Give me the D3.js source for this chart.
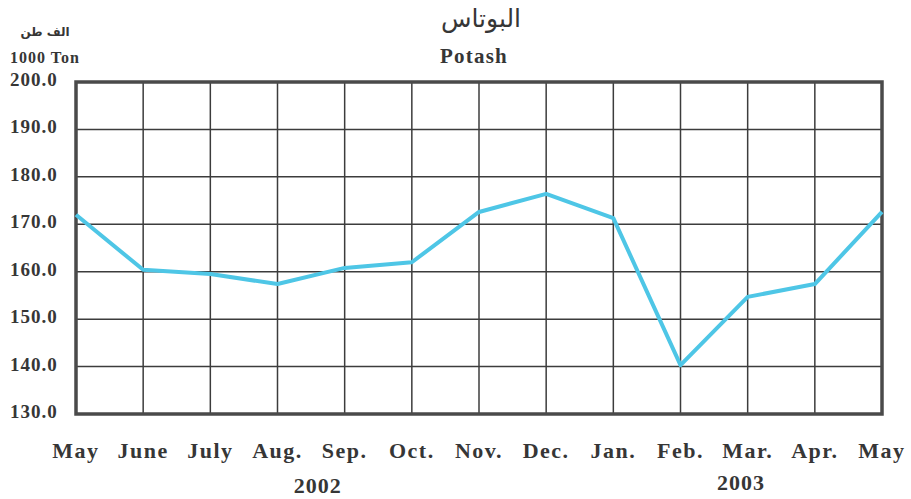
<!DOCTYPE html>
<meta charset="utf-8">
<head>
  <title>Potash</title>
</head>
<style>
body { margin: 0; background: #fff; }
text { fill: #363636; }
.lbl { font-family: "Liberation Serif", "Times New Roman", serif; font-weight: bold; }
.ar { font-family: "DejaVu Sans", sans-serif; }
</style>
<body>
<svg width="911" height="499"></svg>
<script src="https://cdn.jsdelivr.net/npm/d3@7/dist/d3.min.js"></script>
<script>

var months = ["May", "June", "July", "Aug.", "Sep.", "Oct.", "Nov.", "Dec.", "Jan.", "Feb.", "Mar.", "Apr.", "May"];
var potash = [172.0, 160.4, 159.5, 157.4, 160.8, 162.0, 172.6, 176.4, 171.3, 140.3, 154.7, 157.4, 172.6];
var yTicks = [130, 140, 150, 160, 170, 180, 190, 200];
var years = [{label: "2002", at: 3.6}, {label: "2003", at: 9.9}];

var svg = d3.select("svg");
// plot box (note: "top" is taken by window.top)
var pLeft = 76, pRight = 882, pTop = 82, pBottom = 414;

var x = d3.scaleLinear().domain([0, months.length - 1]).range([pLeft, pRight]);
var y = d3.scaleLinear().domain([130, 200]).range([pBottom, pTop]);

// grid
svg.append("g").selectAll("line")
  .data(yTicks)
  .enter().append("line")
  .attr("x1", pLeft).attr("x2", pRight)
  .attr("y1", function(d) { return y(d); })
  .attr("y2", function(d) { return y(d); })
  .attr("stroke", "#3c3c3c").attr("stroke-width", 1.5);

svg.append("g").selectAll("line")
  .data(d3.range(months.length))
  .enter().append("line")
  .attr("y1", pTop).attr("y2", pBottom)
  .attr("x1", function(d) { return x(d); })
  .attr("x2", function(d) { return x(d); })
  .attr("stroke", "#3c3c3c").attr("stroke-width", 1.5);

// frame
svg.append("rect")
  .attr("x", pLeft).attr("y", pTop)
  .attr("width", pRight - pLeft).attr("height", pBottom - pTop)
  .attr("fill", "none").attr("stroke", "#4a4a4a").attr("stroke-width", 3.5);

// y labels
svg.append("g").selectAll("text")
  .data(yTicks)
  .enter().append("text")
  .attr("class", "lbl")
  .attr("x", 10)
  .attr("y", function(d) { return y(d) + 4; })
  .attr("font-size", 19)
  .attr("letter-spacing", 1)
  .text(function(d) { return d.toFixed(1); });

// x labels
svg.append("g").selectAll("text")
  .data(months)
  .enter().append("text")
  .attr("class", "lbl")
  .attr("x", function(d, i) { return x(i); })
  .attr("y", 458)
  .attr("text-anchor", "middle")
  .attr("font-size", 22)
  .attr("letter-spacing", 1.5)
  .text(function(d) { return d; });

svg.append("g").selectAll("text")
  .data(years)
  .enter().append("text")
  .attr("class", "lbl")
  .attr("x", function(d) { return x(d.at); })
  .attr("y", function(d, i) { return i == 0 ? 493 : 490; })
  .attr("text-anchor", "middle")
  .attr("font-size", 22)
  .attr("letter-spacing", 1)
  .text(function(d) { return d.label; });

// line
var line = d3.line()
  .x(function(d, i) { return x(i); })
  .y(function(d) { return y(d); });

svg.append("path")
  .datum(potash)
  .attr("d", line)
  .attr("fill", "none")
  .attr("stroke", "#4ec6e6")
  .attr("stroke-width", 4)
  .attr("stroke-linejoin", "round");

// titles
svg.append("text").attr("class", "ar")
  .attr("x", 481).attr("y", 27)
  .attr("text-anchor", "middle")
  .attr("font-size", 25)
  .text("البوتاس");

svg.append("text").attr("class", "lbl")
  .attr("x", 474).attr("y", 63)
  .attr("text-anchor", "middle")
  .attr("font-size", 21)
  .attr("letter-spacing", 1.2)
  .text("Potash");

svg.append("text").attr("class", "ar")
  .attr("x", 45).attr("y", 36)
  .attr("text-anchor", "middle")
  .attr("font-size", 12)
  .attr("font-weight", "bold")
  .text("الف طن");

svg.append("text").attr("class", "lbl")
  .attr("x", 10).attr("y", 63)
  .attr("font-size", 16)
  .attr("letter-spacing", 1)
  .text("1000 Ton");

</script>
</body>
</html>
